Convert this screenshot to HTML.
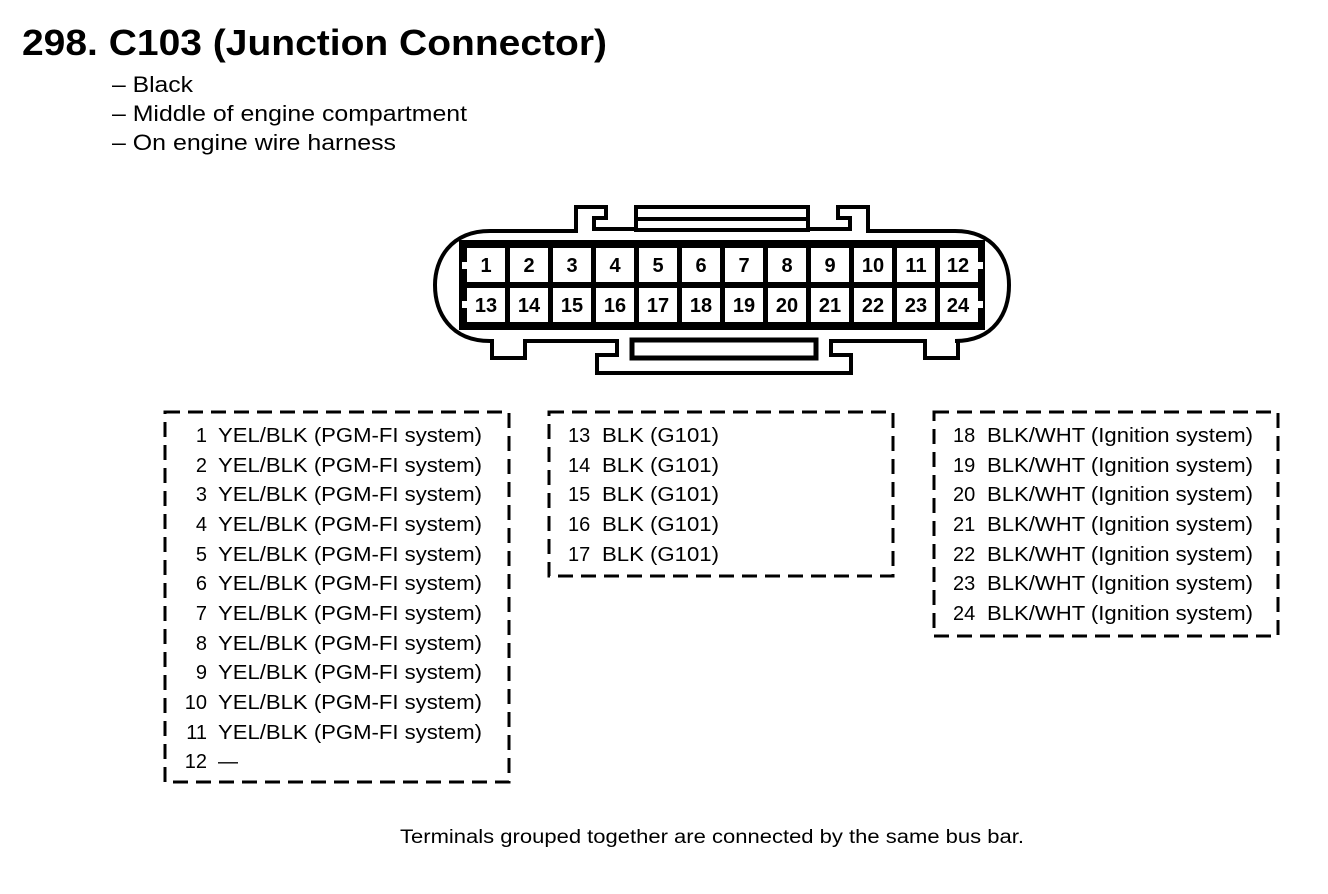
<!DOCTYPE html>
<html><head><meta charset="utf-8"><style>
html,body{margin:0;padding:0;background:#fff;}
svg{display:block;}
text{font-family:"Liberation Sans",Arial,sans-serif;fill:#000;}
</style></head><body>
<svg width="1328" height="894" viewBox="0 0 1328 894" xmlns="http://www.w3.org/2000/svg">
<text x="22" y="55" font-size="36" font-weight="bold" textLength="585" lengthAdjust="spacingAndGlyphs">298. C103 (Junction Connector)</text>
<text x="112" y="92" font-size="22" textLength="81" lengthAdjust="spacingAndGlyphs">– Black</text>
<text x="112" y="121" font-size="22" textLength="355" lengthAdjust="spacingAndGlyphs">– Middle of engine compartment</text>
<text x="112" y="150" font-size="22" textLength="284" lengthAdjust="spacingAndGlyphs">– On engine wire harness</text>

<g fill="none" stroke="#000" stroke-width="4" stroke-linejoin="miter">
<path d="M490,231 L576,231 L576,207 L606,207 L606,218 L594,218 L594,229 L636,229 M808,229 L850,229 L850,218 L838,218 L838,207 L868,207 L868,231 L955,231"/>
<rect x="636" y="207" width="172" height="23"/>
<line x1="636" y1="219" x2="808" y2="219"/>
<path d="M490,231 C450,231 435,260 435,285 C435,312 450,341 490,341"/>
<path d="M955,231 C995,231 1009,260 1009,285 C1009,312 995,341 955,341"/>
<path d="M490,341 L492,341 L492,358 L525,358 L525,341 L617,341 L617,355 L597,355 L597,373 L851,373 L851,355 L831,355 L831,341 L925,341 L925,358 L958,358 L958,341 L955,341"/>
<rect x="632" y="340" width="184" height="18" stroke-width="5"/>
</g>
<rect x="459" y="240" width="526" height="90" fill="#000"/>
<g fill="#fff">
<rect x="467" y="248" width="38" height="34"/><rect x="510" y="248" width="38" height="34"/><rect x="553" y="248" width="38" height="34"/><rect x="596" y="248" width="38" height="34"/><rect x="639" y="248" width="38" height="34"/><rect x="682" y="248" width="38" height="34"/><rect x="725" y="248" width="38" height="34"/><rect x="768" y="248" width="38" height="34"/><rect x="811" y="248" width="38" height="34"/><rect x="854" y="248" width="38" height="34"/><rect x="897" y="248" width="38" height="34"/><rect x="940" y="248" width="38" height="34"/>
<rect x="467" y="288" width="38" height="34"/><rect x="510" y="288" width="38" height="34"/><rect x="553" y="288" width="38" height="34"/><rect x="596" y="288" width="38" height="34"/><rect x="639" y="288" width="38" height="34"/><rect x="682" y="288" width="38" height="34"/><rect x="725" y="288" width="38" height="34"/><rect x="768" y="288" width="38" height="34"/><rect x="811" y="288" width="38" height="34"/><rect x="854" y="288" width="38" height="34"/><rect x="897" y="288" width="38" height="34"/><rect x="940" y="288" width="38" height="34"/>
<rect x="462" y="262" width="6" height="7"/><rect x="462" y="301" width="6" height="7"/>
<rect x="977" y="262" width="6" height="7"/><rect x="977" y="301" width="6" height="7"/>
</g>
<g font-size="20" font-weight="bold" text-anchor="middle">
<text x="486" y="272">1</text><text x="529" y="272">2</text><text x="572" y="272">3</text><text x="615" y="272">4</text><text x="658" y="272">5</text><text x="701" y="272">6</text><text x="744" y="272">7</text><text x="787" y="272">8</text><text x="830" y="272">9</text><text x="873" y="272">10</text><text x="916" y="272">11</text><text x="958" y="272">12</text>
<text x="486" y="312">13</text><text x="529" y="312">14</text><text x="572" y="312">15</text><text x="615" y="312">16</text><text x="658" y="312">17</text><text x="701" y="312">18</text><text x="744" y="312">19</text><text x="787" y="312">20</text><text x="830" y="312">21</text><text x="873" y="312">22</text><text x="916" y="312">23</text><text x="958" y="312">24</text>
</g>

<g fill="none" stroke="#000" stroke-width="3" stroke-dasharray="15 8">
<rect x="165" y="412" width="344" height="370"/>
<rect x="549" y="412" width="344" height="164"/>
<rect x="934" y="412" width="344" height="224"/>
</g>
<g font-size="20">
<g text-anchor="end">
<text x="207" y="442">1</text><text x="207" y="472">2</text><text x="207" y="501">3</text><text x="207" y="531">4</text><text x="207" y="561">5</text><text x="207" y="590">6</text><text x="207" y="620">7</text><text x="207" y="650">8</text><text x="207" y="679">9</text><text x="207" y="709">10</text><text x="207" y="739">11</text><text x="207" y="768">12</text>
</g>
<text x="218" y="442" textLength="264" lengthAdjust="spacingAndGlyphs">YEL/BLK (PGM-FI system)</text>
<text x="218" y="472" textLength="264" lengthAdjust="spacingAndGlyphs">YEL/BLK (PGM-FI system)</text>
<text x="218" y="501" textLength="264" lengthAdjust="spacingAndGlyphs">YEL/BLK (PGM-FI system)</text>
<text x="218" y="531" textLength="264" lengthAdjust="spacingAndGlyphs">YEL/BLK (PGM-FI system)</text>
<text x="218" y="561" textLength="264" lengthAdjust="spacingAndGlyphs">YEL/BLK (PGM-FI system)</text>
<text x="218" y="590" textLength="264" lengthAdjust="spacingAndGlyphs">YEL/BLK (PGM-FI system)</text>
<text x="218" y="620" textLength="264" lengthAdjust="spacingAndGlyphs">YEL/BLK (PGM-FI system)</text>
<text x="218" y="650" textLength="264" lengthAdjust="spacingAndGlyphs">YEL/BLK (PGM-FI system)</text>
<text x="218" y="679" textLength="264" lengthAdjust="spacingAndGlyphs">YEL/BLK (PGM-FI system)</text>
<text x="218" y="709" textLength="264" lengthAdjust="spacingAndGlyphs">YEL/BLK (PGM-FI system)</text>
<text x="218" y="739" textLength="264" lengthAdjust="spacingAndGlyphs">YEL/BLK (PGM-FI system)</text>
<text x="218" y="768">—</text>

<text x="568" y="442">13</text><text x="602" y="442" textLength="117" lengthAdjust="spacingAndGlyphs">BLK (G101)</text>
<text x="568" y="472">14</text><text x="602" y="472" textLength="117" lengthAdjust="spacingAndGlyphs">BLK (G101)</text>
<text x="568" y="501">15</text><text x="602" y="501" textLength="117" lengthAdjust="spacingAndGlyphs">BLK (G101)</text>
<text x="568" y="531">16</text><text x="602" y="531" textLength="117" lengthAdjust="spacingAndGlyphs">BLK (G101)</text>
<text x="568" y="561">17</text><text x="602" y="561" textLength="117" lengthAdjust="spacingAndGlyphs">BLK (G101)</text>

<text x="953" y="442">18</text><text x="987" y="442" textLength="266" lengthAdjust="spacingAndGlyphs">BLK/WHT (Ignition system)</text>
<text x="953" y="472">19</text><text x="987" y="472" textLength="266" lengthAdjust="spacingAndGlyphs">BLK/WHT (Ignition system)</text>
<text x="953" y="501">20</text><text x="987" y="501" textLength="266" lengthAdjust="spacingAndGlyphs">BLK/WHT (Ignition system)</text>
<text x="953" y="531">21</text><text x="987" y="531" textLength="266" lengthAdjust="spacingAndGlyphs">BLK/WHT (Ignition system)</text>
<text x="953" y="561">22</text><text x="987" y="561" textLength="266" lengthAdjust="spacingAndGlyphs">BLK/WHT (Ignition system)</text>
<text x="953" y="590">23</text><text x="987" y="590" textLength="266" lengthAdjust="spacingAndGlyphs">BLK/WHT (Ignition system)</text>
<text x="953" y="620">24</text><text x="987" y="620" textLength="266" lengthAdjust="spacingAndGlyphs">BLK/WHT (Ignition system)</text>
</g>
<text x="400" y="843" font-size="19" textLength="624" lengthAdjust="spacingAndGlyphs">Terminals grouped together are connected by the same bus bar.</text>
</svg>
</body></html>
